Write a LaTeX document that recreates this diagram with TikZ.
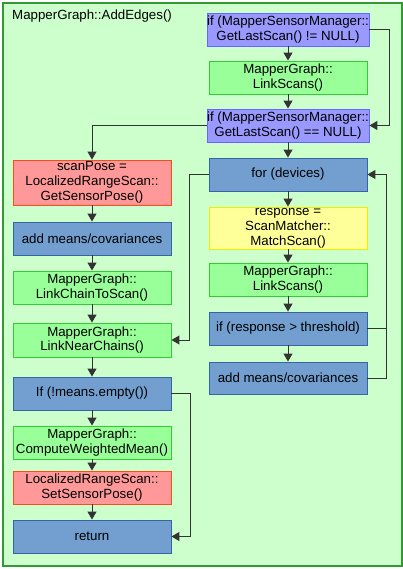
\documentclass[tikz,border=0pt]{standalone}
\usepackage{fontspec}
\setmainfont{Liberation Sans}
\usetikzlibrary{arrows.meta}

\definecolor{framefill}{HTML}{CCFFCC}
\definecolor{framedraw}{HTML}{339933}
\definecolor{purplefill}{HTML}{9999FF}
\definecolor{purpledraw}{HTML}{6666FF}
\definecolor{greenfill}{HTML}{99FF99}
\definecolor{greendraw}{HTML}{33CC33}
\definecolor{bluefill}{HTML}{729FCF}
\definecolor{bluedraw}{HTML}{3465A4}
\definecolor{redfill}{HTML}{FF9999}
\definecolor{reddraw}{HTML}{FF4A1A}
\definecolor{yellowfill}{HTML}{FFFF99}
\definecolor{yellowdraw}{HTML}{EEEE00}
\definecolor{linkcol}{HTML}{333333}

\begin{document}
\begin{tikzpicture}[x=1pt,y=-1pt,>={Triangle[length=8pt,width=9pt]},
  box/.style={draw,line width=0.9pt,minimum width=158pt,minimum height=33pt,
    inner sep=0pt,align=center,font=\fontsize{13.3}{14.8}\selectfont},
  condbox/.style={box,fill=purplefill,draw=purpledraw},
  callbox/.style={box,fill=greenfill,draw=greendraw},
  stepbox/.style={box,fill=bluefill,draw=bluedraw},
  posebox/.style={box,fill=redfill,draw=reddraw},
  matchbox/.style={box,fill=yellowfill,draw=yellowdraw},
  link/.style={->,line width=1pt,draw=linkcol}]
\useasboundingbox (0,0) rectangle (403,569);
\draw[fill=framefill,draw=framedraw,line width=1.2pt] (3,3) rectangle (402,566);
\node[anchor=west,inner sep=0pt,font=\fontsize{13.3}{14.8}\selectfont] (title) at (12,16.5) {MapperGraph::AddEdges()};

% right column
\node[condbox] (r1) at (288,29.5) {if (MapperSensorManager::\\GetLastScan() != NULL)};
\node[callbox] (r2) at (288,77.5) {MapperGraph::\\LinkScans()};
\node[condbox] (r3) at (288,125.5) {if (MapperSensorManager::\\GetLastScan() == NULL)};
\node[stepbox] (r4) at (288,174.5) {for (devices)};
\node[matchbox,minimum height=42pt] (r5) at (288,228) {response =\\ScanMatcher::\\MatchScan()};
\node[callbox] (r6) at (288,279.5) {MapperGraph::\\LinkScans()};
\node[stepbox] (r7) at (288,328.5) {if (response > threshold)};
\node[stepbox,minimum height=32pt] (r8) at (288,378) {add means/covariances};

% left column
\node[posebox,minimum height=45pt] (l1) at (92,182.5) {scanPose =\\LocalizedRangeScan::\\GetSensorPose()};
\node[stepbox] (l2) at (92,238.5) {add means/covariances};
\node[callbox] (l3) at (92,287.5) {MapperGraph::\\LinkChainToScan()};
\node[callbox,minimum height=34pt] (l4) at (92,340) {MapperGraph::\\LinkNearChains()};
\node[stepbox] (l5) at (92,393.5) {If (!means.empty())};
\node[callbox] (l6) at (92,442.5) {MapperGraph::\\ComputeWeightedMean()};
\node[posebox] (l7) at (92,487.5) {LocalizedRangeScan::\\SetSensorPose()};
\node[stepbox] (l8) at (92,536.5) {return};

\draw[link] (r1) -- (r2);
\draw[link] (r2) -- (r3);
\draw[link] (r3) -- (r4);
\draw[link] (r4) -- (r5);
\draw[link] (r5) -- (r6);
\draw[link] (r6) -- (r7);
\draw[link] (r7) -- (r8);
\draw[link] (r1.east) -- ++(20,0) |- (r3.east);
\draw[link] (r3.west) -| (l1.north);
\draw[link] (r7.east) -- ++(19,0) |- (r4.east);
\draw[line width=1pt,draw=linkcol] (r8.east) -- ++(19,0) -- ++(0,-50);
\draw[link] (r4.west) -- ++(-19,0) |- (l4.east);

\draw[link] (l1) -- (l2);
\draw[link] (l2) -- (l3);
\draw[link] (l3) -- (l4);
\draw[link] (l4) -- (l5);
\draw[link] (l5) -- (l6);
\draw[link] (l6) -- (l7);
\draw[link] (l7) -- (l8);
\draw[link] (l5.east) -- ++(19,0) |- (l8.east);
\end{tikzpicture}
\end{document}
